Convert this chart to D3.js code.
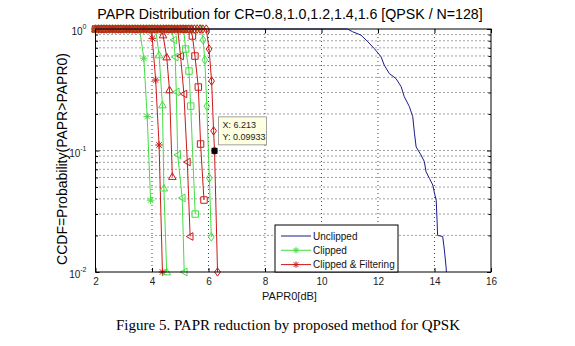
<!DOCTYPE html>
<html><head><meta charset="utf-8">
<script src="https://cdn.jsdelivr.net/npm/d3@7"></script>
<style>
body{margin:0;background:#fff}
svg{display:block}
</style>
</head><body>
<svg id="c" width="575" height="346" font-family="Arial, 'Liberation Sans', sans-serif"></svg>
<script>
// ---------------- data ----------------
const titleText = "PAPR Distribution for CR=0.8,1.0,1.2,1.4,1.6 [QPSK / N=128]";
const xLabelText = "PAPR0[dB]";
const yLabelText = "CCDF=Probability(PAPR>PAPR0)";
const captionText = "Figure 5. PAPR reduction by proposed method for QPSK";
const xTicks = [2, 4, 6, 8, 10, 12, 14, 16];
const yTicks = [1, 0.1, 0.01];
const yTickExp = ["0", "-1", "-2"];
const yMinor = [0.02,0.03,0.04,0.05,0.06,0.07,0.08,0.09,0.2,0.3,0.4,0.5,0.6,0.7,0.8,0.9];
const crValues = ["0.8","1.0","1.2","1.4","1.6"];
// PAPR0 grid where all clipped curves still sit at CCDF = 1
const flatGrid = [2.0,2.1,2.2,2.3,2.4,2.5,2.6,2.7,2.8,2.9,3.0,3.1,3.2,3.3,3.4,3.5,3.6,3.7,3.8,3.9,
                  4.0,4.1,4.2,4.3,4.4,4.5,4.6,4.7,4.8,4.9,5.0,5.1,5.2,5.3,5.4,5.5,5.6,5.7,5.8,5.9];
const unclipped = [[2,1],[10.92,1],[11.10,0.95],[11.40,0.89],[11.64,0.785],[11.87,0.69],[12.11,0.59],
  [12.22,0.505],[12.40,0.43],[12.64,0.39],[12.82,0.335],[12.93,0.277],[13.11,0.23],[13.23,0.19],
  [13.29,0.139],[13.35,0.107],[13.52,0.092],[13.64,0.081],[13.70,0.067],[13.82,0.059],[13.94,0.052],
  [14.00,0.0445],[14.06,0.039],[14.09,0.0268],[14.11,0.020],[14.29,0.0196],[14.35,0.0152],
  [14.41,0.011],[14.42,0.01]];
// descending part of each curve (first point = last point at CCDF=1)
const clipped = [
  [[3.56,1],[3.71,0.574],[3.83,0.190],[3.95,0.039]],
  [[4.13,1],[4.25,0.611],[4.37,0.237],[4.42,0.049],[4.52,0.0100]],
  [[4.70,1],[4.77,0.812],[4.82,0.588],[4.86,0.303],[4.91,0.092],[5.07,0.0407],[5.14,0.0100]],
  [[5.12,1],[5.19,0.684],[5.31,0.451],[5.37,0.232],[5.53,0.030]],
  [[5.74,1],[5.81,0.812],[5.87,0.556],[5.94,0.232],[6.03,0.0594],[6.10,0.0194]]
];
const filtered = [
  [[3.92,1],[4.01,0.838],[4.13,0.380],[4.25,0.111],[4.37,0.0100]],
  [[4.31,1],[4.39,0.892],[4.52,0.588],[4.62,0.315],[4.72,0.061]],
  [[4.91,1],[5.01,0.599],[5.13,0.292],[5.25,0.0804],[5.35,0.0196]],
  [[5.35,1],[5.43,0.876],[5.52,0.599],[5.64,0.333],[5.72,0.113],[5.84,0.0391]],
  [[5.92,1],[6.02,0.684],[6.11,0.373],[6.18,0.145],[6.213,0.09933],[6.32,0.0100]]
];
const datatip = {x: 6.213, y: 0.09933};
const legendLabels = ["Unclipped", "Clipped", "Clipped & Filtering"];

// ---------------- styles ----------------
const markerTypes = ["star","tri","triL","square","diamond"];
const colBlue = "#1c1c8a", colGreen = "#44dd44", colRed = "#cc1818";

// ---------------- layout ----------------
const svg = d3.select("#c");
const L = 95.5, R = 491, T = 29, B = 272;
const x = d3.scaleLinear().domain([2, 16]).range([L, R]);
const y = d3.scaleLog().domain([0.01, 1]).range([B, T]);

function markerPath(t, r) {
  switch (t) {
    case "star": { const d = r * 0.72;
      return `M${-r},0H${r}M0,${-r}V${r}M${-d},${-d}L${d},${d}M${-d},${d}L${d},${-d}`; }
    case "tri": return `M0,${-r}L${r},${r*0.75}L${-r},${r*0.75}Z`;
    case "triL": return `M${-r},0L${r*0.75},${-r}L${r*0.75},${r}Z`;
    case "square": { const s = r * 0.85; return `M${-s},${-s}H${s}V${s}H${-s}Z`; }
    case "diamond": return `M0,${-r*1.1}L${r*0.75},0L0,${r*1.1}L${-r*0.75},0Z`;
  }
}

// grid
const grid = svg.append("g").attr("stroke", "#000").attr("stroke-width", 0.8)
  .attr("stroke-dasharray", "1,3").attr("opacity", 0.9);
xTicks.slice(1, -1).forEach(v => grid.append("line")
  .attr("x1", x(v)).attr("x2", x(v)).attr("y1", T).attr("y2", B));
yTicks.concat(yMinor).filter(v => v > 0.01 && v < 1).forEach(v => grid.append("line")
  .attr("x1", L).attr("x2", R).attr("y1", y(v)).attr("y2", y(v)));

// axes
const axB = svg.append("g").attr("transform", `translate(0,${B})`)
  .call(d3.axisBottom(x).tickValues(xTicks).tickSize(-4).tickPadding(6).tickFormat(d3.format("d")));
const axT = svg.append("g").attr("transform", `translate(0,${T})`)
  .call(d3.axisTop(x).tickValues(xTicks).tickSize(-4).tickFormat(""));
const axL = svg.append("g").attr("transform", `translate(${L},0)`)
  .call(d3.axisLeft(y).tickValues(yTicks).tickSize(-4).tickFormat(""));
const axLm = svg.append("g").attr("transform", `translate(${L},0)`)
  .call(d3.axisLeft(y).tickValues(yMinor).tickSize(-2.5).tickFormat(""));
const axR = svg.append("g").attr("transform", `translate(${R},0)`)
  .call(d3.axisRight(y).tickValues(yTicks).tickSize(-4).tickFormat(""));
const axRm = svg.append("g").attr("transform", `translate(${R},0)`)
  .call(d3.axisRight(y).tickValues(yMinor).tickSize(-2.5).tickFormat(""));
[axB, axT, axL, axLm, axR, axRm].forEach(a => {
  a.attr("font-family", null);
  a.select(".domain").remove();
  a.selectAll("line").attr("stroke", "#000");
  a.selectAll("text").attr("font-size", 10).attr("fill", "#222");
});
// y tick labels 10^n
const yl = svg.append("g").attr("font-size", 10).attr("fill", "#222");
yTicks.forEach((v, i) => {
  const t = yl.append("text").attr("x", L - 9).attr("y", y(v) + 6).attr("text-anchor", "end");
  t.append("tspan").text("10");
  t.append("tspan").attr("font-size", 7).attr("dy", -6).text(yTickExp[i]);
});

// curves
const line = d3.line().x(d => x(d[0])).y(d => y(d[1]));
const plot = svg.append("g");
function drawSeries(pts, color, mtype) {
  plot.append("path").attr("d", line(pts)).attr("fill", "none")
    .attr("stroke", color).attr("stroke-width", 1);
  if (mtype) {
    plot.append("g").selectAll("path").data(pts).join("path")
      .attr("transform", d => `translate(${x(d[0])},${y(d[1])})`)
      .attr("d", markerPath(mtype, 3.8)).attr("fill", "none")
      .attr("stroke", color).attr("stroke-width", 1);
  }
}
drawSeries(unclipped, colBlue, null);
crValues.forEach((cr, i) => {
  const g = flatGrid.filter(v => v < clipped[i][0][0] - 0.03).map(v => [v, 1]).concat(clipped[i]);
  drawSeries(g, colGreen, markerTypes[i]);
  const r = flatGrid.filter(v => v < filtered[i][0][0] - 0.03).map(v => [v, 1]).concat(filtered[i]);
  drawSeries(r, colRed, markerTypes[i]);
});

// frame
svg.append("rect").attr("x", L).attr("y", T).attr("width", R - L).attr("height", B - T)
  .attr("fill", "none").attr("stroke", "#000").attr("stroke-width", 1);

// data tip
svg.append("rect").attr("x", x(datatip.x) - 3).attr("y", y(datatip.y) - 3)
  .attr("width", 6).attr("height", 6).attr("fill", "#000");
const tip = svg.append("g").attr("transform", `translate(${x(datatip.x) + 4},${y(datatip.y) - 34})`);
tip.append("rect").attr("width", 48).attr("height", 28).attr("fill", "#ffffe1")
  .attr("stroke", "#8a8a8a").attr("stroke-width", 0.8);
tip.append("text").attr("x", 4).attr("y", 11).attr("font-size", 9).attr("fill", "#222")
  .text("X: " + datatip.x);
tip.append("text").attr("x", 4).attr("y", 23).attr("font-size", 9).attr("fill", "#222")
  .text("Y: " + datatip.y);

// legend
const lg = svg.append("g").attr("transform", "translate(275,225)");
lg.append("rect").attr("width", 123).attr("height", 47).attr("fill", "#fff")
  .attr("stroke", "#000").attr("stroke-width", 1);
const legCols = [colBlue, colGreen, colRed];
const legMk = [null, "star", "star"];
legendLabels.forEach((lab, i) => {
  const yy = 11 + i * 14.3;
  lg.append("line").attr("x1", 6).attr("x2", 36).attr("y1", yy).attr("y2", yy)
    .attr("stroke", legCols[i]).attr("stroke-width", 1);
  if (legMk[i]) lg.append("path").attr("transform", `translate(21,${yy})`)
    .attr("d", markerPath(legMk[i], 3.2)).attr("fill", "none").attr("stroke", legCols[i]);
  lg.append("text").attr("x", 38).attr("y", yy + 3.6).attr("font-size", 10)
    .attr("fill", "#111").text(lab);
});

// titles
svg.append("text").attr("x", 290).attr("y", 19).attr("text-anchor", "middle")
  .attr("font-size", 14.2).attr("fill", "#000").text(titleText);
svg.append("text").attr("x", 289.5).attr("y", 300).attr("text-anchor", "middle")
  .attr("font-size", 11).attr("fill", "#111").text(xLabelText);
svg.append("text").attr("transform", "translate(67,159) rotate(-90)").attr("text-anchor", "middle")
  .attr("font-size", 14).attr("fill", "#000").text(yLabelText);
svg.append("text").attr("x", 288).attr("y", 330).attr("text-anchor", "middle")
  .attr("font-size", 15).attr("fill", "#000")
  .attr("font-family", "'Liberation Serif','Times New Roman',serif").text(captionText);
</script>
</body></html>
